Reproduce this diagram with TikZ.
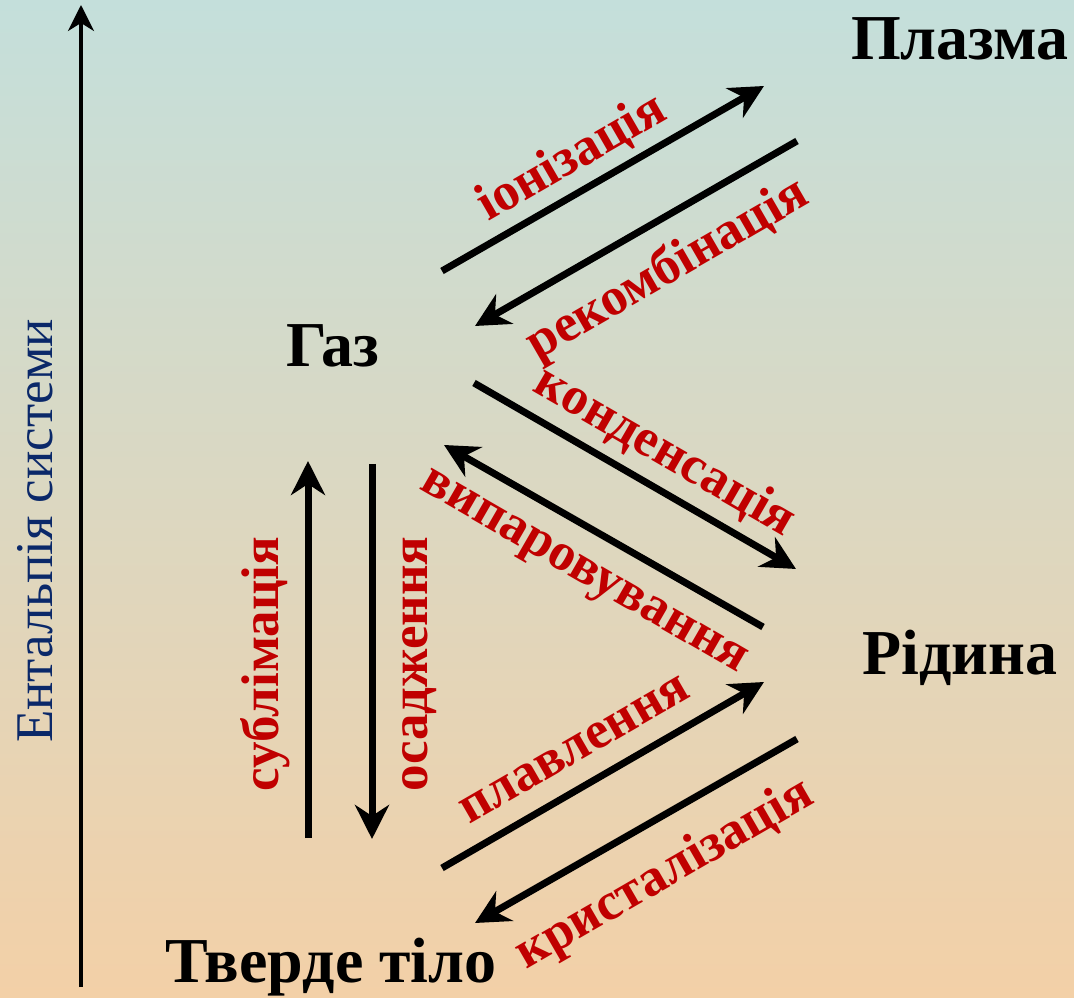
\documentclass[tikz,border=0pt]{standalone}
\usepackage{fontspec}
\setmainfont{Liberation Serif}
\usetikzlibrary{arrows.meta}

\definecolor{bgtop}{RGB}{196,223,219}
\definecolor{bgbottom}{RGB}{243,208,167}
\definecolor{labelred}{RGB}{192,0,0}
\definecolor{axisblue}{RGB}{10,40,105}

\tikzset{
    phase/.style={font=\fontsize{64}{66}\selectfont\bfseries, anchor=base, inner sep=0pt},
    process/.style={font=\fontsize{53}{55}\selectfont\bfseries, text=labelred, inner sep=0pt},
    transition/.style={line width=7pt, -{Stealth[length=34pt, width=34pt, inset=11pt]}},
}

\begin{document}
\begin{tikzpicture}[x=1pt, y=1pt]

    % background
    \shade[top color=bgtop, bottom color=bgbottom] (0,0) rectangle (1074,997);
    \useasboundingbox (0,0) rectangle (1074,997);

    % enthalpy axis
    \coordinate (axis low) at (81,10);
    \coordinate (axis high) at (81,992);
    \draw[line width=3.5pt, -{Stealth[length=26pt, width=26pt, inset=8pt]}] (axis low) -- (axis high);
    \node[rotate=90, text=axisblue, font=\fontsize{53}{55}\selectfont] (axislabel) at (35,466) {Ентальпія системи};

    % phases
    \node[phase] (plasma) at (960,937) {Плазма};
    \node[phase] (gas) at (333,630) {Газ};
    \node[phase] (liquid) at (960,322) {Рідина};
    \node[phase] (solid) at (331,15) {Тверде тіло};

    % gas <-> plasma
    \coordinate (ion a) at (442,726);
    \coordinate (ion b) at (764,911);
    \coordinate (rec a) at (797,856);
    \coordinate (rec b) at (475,671);
    \draw[transition] (ion a) -- (ion b);
    \draw[transition] (rec a) -- (rec b);
    \node[process, rotate=30] (ionlabel) at (572,839) {іонізація};
    \node[process, rotate=30] (reclabel) at (668,727) {рекомбінація};

    % gas <-> liquid
    \coordinate (cond a) at (474,614);
    \coordinate (cond b) at (796,428);
    \coordinate (vap a) at (763,370);
    \coordinate (vap b) at (444,552);
    \draw[transition] (cond a) -- (cond b);
    \draw[transition] (vap a) -- (vap b);
    \node[process, rotate=-30] (condlabel) at (665,545) {конденсація};
    \node[process, rotate=-30] (vaplabel) at (582,422) {випаровування};

    % solid <-> liquid
    \coordinate (melt a) at (442,129);
    \coordinate (melt b) at (764,315);
    \coordinate (cryst a) at (797,258);
    \coordinate (cryst b) at (475,74);
    \draw[transition] (melt a) -- (melt b);
    \draw[transition] (cryst a) -- (cryst b);
    \node[process, rotate=30] (meltlabel) at (575,247) {плавлення};
    \node[process, rotate=30] (crystlabel) at (665,122) {кристалізація};

    % solid <-> gas
    \coordinate (subl a) at (308,159);
    \coordinate (subl b) at (308,536);
    \coordinate (dep a) at (372,533);
    \coordinate (dep b) at (372,158);
    \draw[transition] (subl a) -- (subl b);
    \draw[transition] (dep a) -- (dep b);
    \node[process, rotate=90] (subllabel) at (265,333) {сублімація};
    \node[process, rotate=90] (deplabel) at (420,333) {осадження};

\end{tikzpicture}
\end{document}
